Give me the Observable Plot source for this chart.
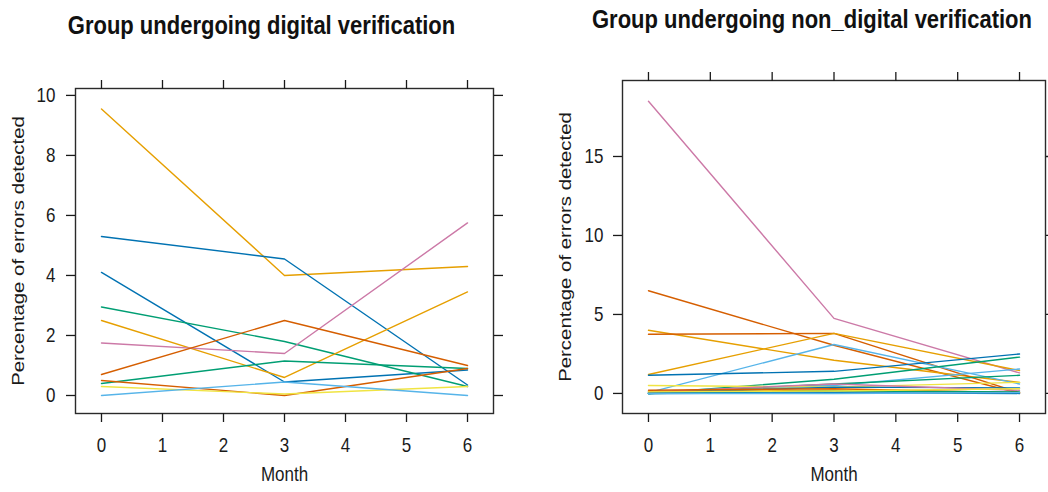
<!DOCTYPE html>
<html>
<head>
<meta charset="utf-8">
<script src="https://cdn.jsdelivr.net/npm/d3@7"></script>
<script src="https://cdn.jsdelivr.net/npm/@observablehq/plot@0.6"></script>
<style>
  body { margin: 0; background: #fff; }
  #wrap { position: relative; width: 1048px; height: 492px; overflow: hidden;
          font-family: "Liberation Sans", Arial, sans-serif; background: #fff; }
  .title { position: absolute; font-weight: bold; font-size: 22px; line-height: 22px;
           color: #111; white-space: nowrap; text-align: center;
           transform: scaleY(1.2); transform-origin: 50% 18.6px; }
  .panel { position: absolute; top: 50px; width: 524px; height: 442px; }
  .panel svg { max-width: none; }
</style>
</head>
<body>
<div id="wrap"></div>
<script>
// Measurement months
const months = [0, 3, 6];
const monthTicks = [0, 1, 2, 3, 4, 5, 6];

// Colour palette used for the subject lines
const orange = "#E69F00", sky = "#56B4E9", green = "#009E73", yellow = "#F0E442",
      blue = "#0072B2", vermillion = "#D55E00", pink = "#CC79A7";

// Digital verification group: % of errors detected at months 0, 3, 6
const digitalValues = [
  [9.55, 4.0, 4.3],
  [5.3, 4.55, 0.35],
  [4.1, 0.45, 0.85],
  [2.95, 1.8, 0.3],
  [2.5, 0.6, 3.45],
  [1.75, 1.4, 5.75],
  [0.7, 2.5, 1.0],
  [0.4, 1.15, 0.9],
  [0.5, 0.0, 0.9],
  [0.3, 0.05, 0.3],
  [0.0, 0.45, 0.0]
];
const digitalColors = [orange, blue, blue, green, orange, pink, vermillion, green, vermillion, yellow, sky];
const digitalYTicks = [0, 2, 4, 6, 8, 10];

// Non-digital verification group: % of errors detected at months 0, 3, 6
const nonDigitalValues = [
  [18.5, 4.75, 1.3],
  [6.5, 3.05, 0.0],
  [4.0, 2.1, 0.7],
  [3.75, 3.8, 0.05],
  [1.2, 3.8, 1.45],
  [0.05, 3.1, 0.6],
  [1.15, 1.4, 2.5],
  [0.0, 0.9, 2.3],
  [0.0, 0.5, 1.55],
  [0.05, 0.6, 1.15],
  [0.5, 0.4, 0.7],
  [0.0, 0.4, 0.35],
  [0.1, 0.6, 0.2],
  [0.1, 0.2, 0.05],
  [0.2, 0.3, 0.05],
  [0.0, 0.15, 0.1],
  [0.1, 0.15, 0.3],
  [0.0, 0.05, 0.0],
  [0.0, 0.0, 0.05]
];
const nonDigitalColors = [pink, vermillion, orange, vermillion, orange, sky, blue, green, sky, green,
                          yellow, blue, pink, orange, vermillion, green, yellow, blue, sky];
const nonDigitalYTicks = [0, 5, 10, 15];

const titles = ["Group undergoing digital verification", "Group undergoing non_digital verification"];
const xTitle = "Month";
const yTitle = "Percentage of errors detected";

const wrap = document.getElementById("wrap");
const STRETCH = 1.2;

// Text in this chart is drawn slightly tall; stretch each label vertically about its anchor
function stretchText(svg) {
  svg.querySelectorAll("text").forEach(el => {
    const t = el.getAttribute("transform");
    if (t) {
      if (t.includes("rotate(")) el.setAttribute("transform", t.replace("rotate(", `scale(1,${STRETCH}) rotate(`));
      else el.setAttribute("transform", `${t} scale(1,${STRETCH})`);
    } else {
      const x = parseFloat(el.getAttribute("x")) || 0, y = parseFloat(el.getAttribute("y")) || 0;
      el.setAttribute("transform", `translate(${x},${y}) scale(1,${STRETCH}) translate(${-x},${-y})`);
    }
  });
}

function panel({values, colors, yDomain, yTicks, marginLeft, marginRight, marginTop, xDomain, yPad, left}) {
  const rows = values.flatMap((v, i) => v.map((pct, j) => ({id: i, month: months[j], pct, color: colors[i]})));
  const blank = () => "";
  const whole = d => String(d);
  const svg = Plot.plot({
    width: 524,
    height: 442,
    marginLeft, marginRight, marginTop, marginBottom: 79,
    style: {fontFamily: "'Liberation Sans', Arial, sans-serif", fontSize: "17px", color: "#1a1a1a", background: "white", overflow: "visible"},
    x: {domain: xDomain},
    y: {domain: yDomain},
    marks: [
      Plot.lineY(rows, {x: "month", y: "pct", z: "id", stroke: "color", strokeWidth: 1.4}),
      Plot.frame({stroke: "#2a2a2a", strokeWidth: 1.4}),
      Plot.axisX({anchor: "bottom", ticks: monthTicks, tickSize: 9, tickPadding: 15, tickFormat: whole, label: null, strokeWidth: 1.3}),
      Plot.axisX({anchor: "top", ticks: monthTicks, tickSize: 9, tickFormat: blank, label: null, strokeWidth: 1.3}),
      Plot.axisY({anchor: "left", ticks: yTicks, tickSize: 9, tickPadding: yPad, tickFormat: whole, label: null, strokeWidth: 1.3}),
      Plot.axisY({anchor: "right", ticks: yTicks, tickSize: 9, tickFormat: blank, label: null, strokeWidth: 1.3}),
      Plot.text([xTitle], {frameAnchor: "bottom", dy: 67}),
      Plot.text([yTitle], {frameAnchor: "left", dx: -57, rotate: -90, textAnchor: "middle"})
    ]
  });
  stretchText(svg);
  const div = document.createElement("div");
  div.className = "panel";
  div.style.left = left + "px";
  div.appendChild(svg);
  wrap.appendChild(div);
}

panel({
  values: digitalValues, colors: digitalColors,
  xDomain: [-0.426, 6.426], yDomain: [-0.6, 10.23], yTicks: digitalYTicks,
  marginLeft: 75, marginRight: 31, marginTop: 38, yPad: 11, left: 0
});
panel({
  values: nonDigitalValues, colors: nonDigitalColors,
  xDomain: [-0.42, 6.42], yDomain: [-1.27, 19.81], yTicks: nonDigitalYTicks,
  marginLeft: 98, marginRight: 3, marginTop: 30, yPad: 10, left: 524
});

// Panel titles above each plot
[[titles[0], 261.5, 16.4], [titles[1], 812, 9.7]].forEach(([text, cx, top]) => {
  const d = document.createElement("div");
  d.className = "title";
  d.textContent = text;
  d.style.width = "500px";
  d.style.left = (cx - 250) + "px";
  d.style.top = top + "px";
  wrap.appendChild(d);
});
</script>
</body>
</html>
